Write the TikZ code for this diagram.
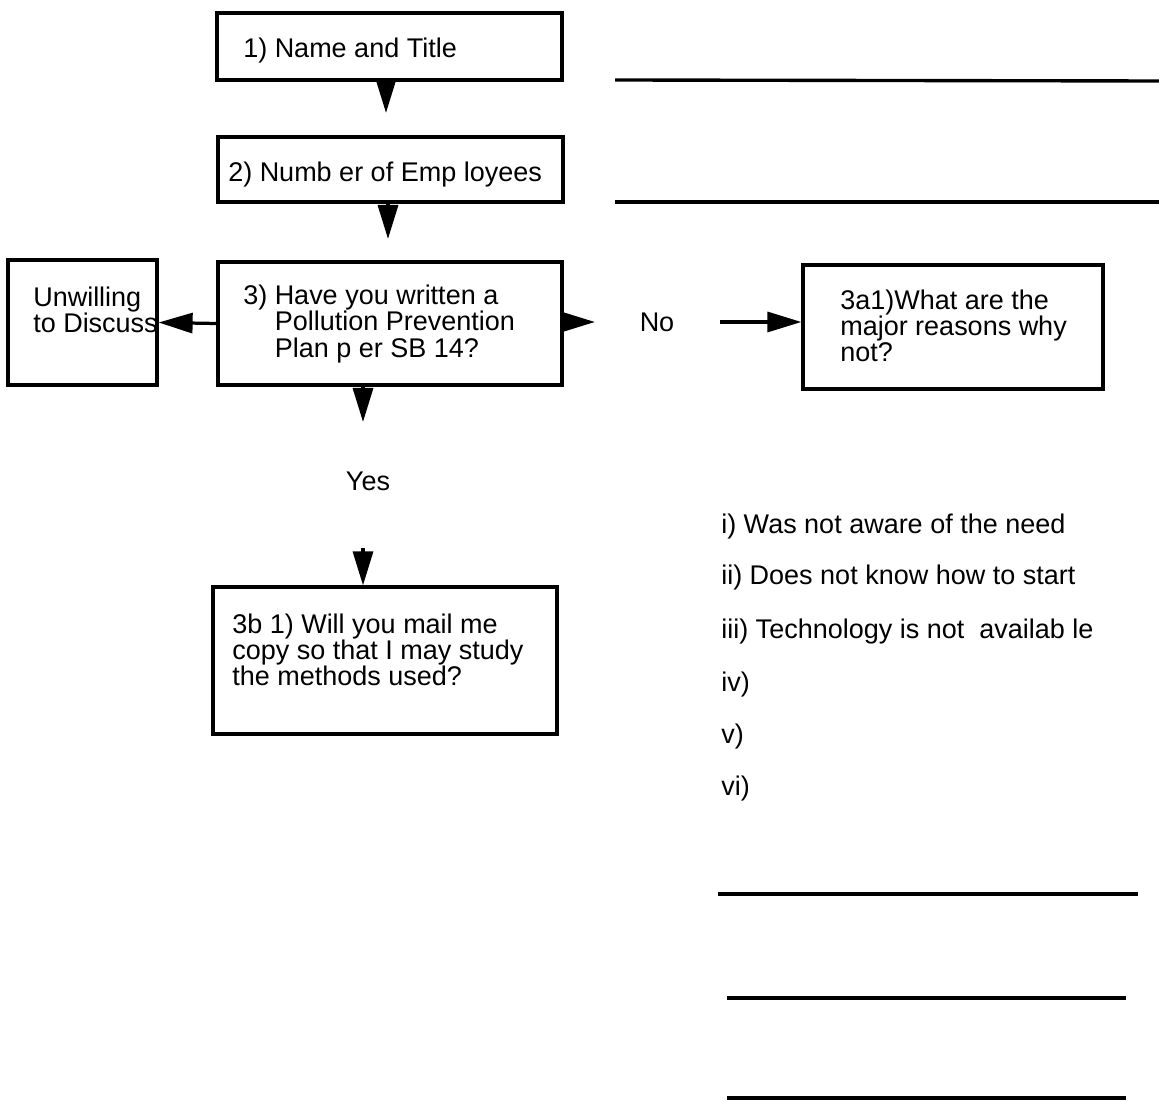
\documentclass[tikz,border=0pt]{standalone}
\usepackage{fontspec}
\setmainfont{Liberation Sans}
\usetikzlibrary{arrows.meta}

\begin{document}
\begin{tikzpicture}[
    every node/.style={font=\fontsize{19.2}{18.6}\selectfont},
    box/.style={draw, line width=2.3pt, inner sep=0pt},
    txt/.style={anchor=west, inner sep=0pt, align=left},
    arrow/.style={-{Triangle[length=0.85cm,width=0.5cm]}, line width=2.3pt},
    blank/.style={line width=2.4pt}
]
\useasboundingbox (0,0) rectangle (28.975,-27.55);

% boxes
\node[box, minimum width=8.625cm, minimum height=1.675cm] (namebox) at (9.7375,-1.1625) {};
\node[box, minimum width=8.625cm, minimum height=1.625cm] (empbox) at (9.7625,-4.2375) {};
\node[box, minimum width=8.6cm, minimum height=3.075cm] (planbox) at (9.75,-8.0875) {};
\node[box, minimum width=3.725cm, minimum height=3.125cm] (unwbox) at (2.0625,-8.0625) {};
\node[box, minimum width=7.5cm, minimum height=3.1cm] (whybox) at (23.825,-8.175) {};
\node[box, minimum width=8.6cm, minimum height=3.675cm] (mailbox) at (9.625,-16.5125) {};

% box texts
\node[txt] (nametxt) at (6.075,-1.275) {1) Name and Title};
\node[txt] (emptxt) at (5.7,-4.375) {2) Numb er of Emp loyees};
\node[txt] (plantxt) at (6.075,-8.1) {3) Have you written a\\\hphantom{3) }Pollution Prevention\\\hphantom{3) }Plan p er SB 14?};
\node[txt] (unwtxt) at (0.825,-7.75) {Unwilling\\to Discuss};
\node[txt] (whytxt) at (21.0,-8.15) {3a1)What are the\\major reasons why\\not?};
\node[txt] (mailtxt) at (5.8,-16.25) {3b 1) Will you mail me\\copy so that I may study\\the methods used?};

% answers
\node (no) at (16.425,-8.05) {No};
\node (yes) at (9.2,-12.025) {Yes};

% reasons
\node[txt] (r1) at (18.025,-13.175) {i) Was not aware of the need};
\node[txt] (r2) at (18.025,-14.45) {ii) Does not know how to start};
\node[txt] (r3) at (18.025,-15.8) {iii) Technology is not \ availab le};
\node[txt] (r4) at (18.025,-17.125) {iv)};
\node[txt] (r5) at (18.025,-18.425) {v)};
\node[txt] (r6) at (18.025,-19.725) {vi)};

% free arrow ends
\coordinate (c1) at (9.65,-2.825);
\coordinate (c2) at (9.7,-5.975);
\coordinate (c3) at (14.875,-8.05);
\coordinate (c4) at (18.0,-8.05);
\coordinate (c5) at (9.075,-10.55);
\coordinate (c6) at (9.075,-13.7);

\draw[arrow] (namebox.south -| c1) -- (c1);
\draw[arrow] (empbox.south -| c2) -- (c2);
\draw[arrow] (planbox.west) -- (unwbox.east);
\draw[arrow] (planbox.east |- c3) -- (c3);
\draw[arrow] (c4) -- (c4 -| whybox.west);
\draw[arrow] (planbox.south -| c5) -- (c5);
\draw[arrow] (c6) -- (c6 |- mailbox.north);

% answer lines
\draw[blank] (15.375,-2.0) -- (28.975,-2.025);
\draw[blank] (15.375,-5.05) -- (28.975,-5.05);
\draw[blank] (17.95,-22.35) -- (28.45,-22.35);
\draw[blank] (18.175,-24.95) -- (28.15,-24.95);
\draw[blank] (18.175,-27.45) -- (28.15,-27.45);

\end{tikzpicture}
\end{document}
